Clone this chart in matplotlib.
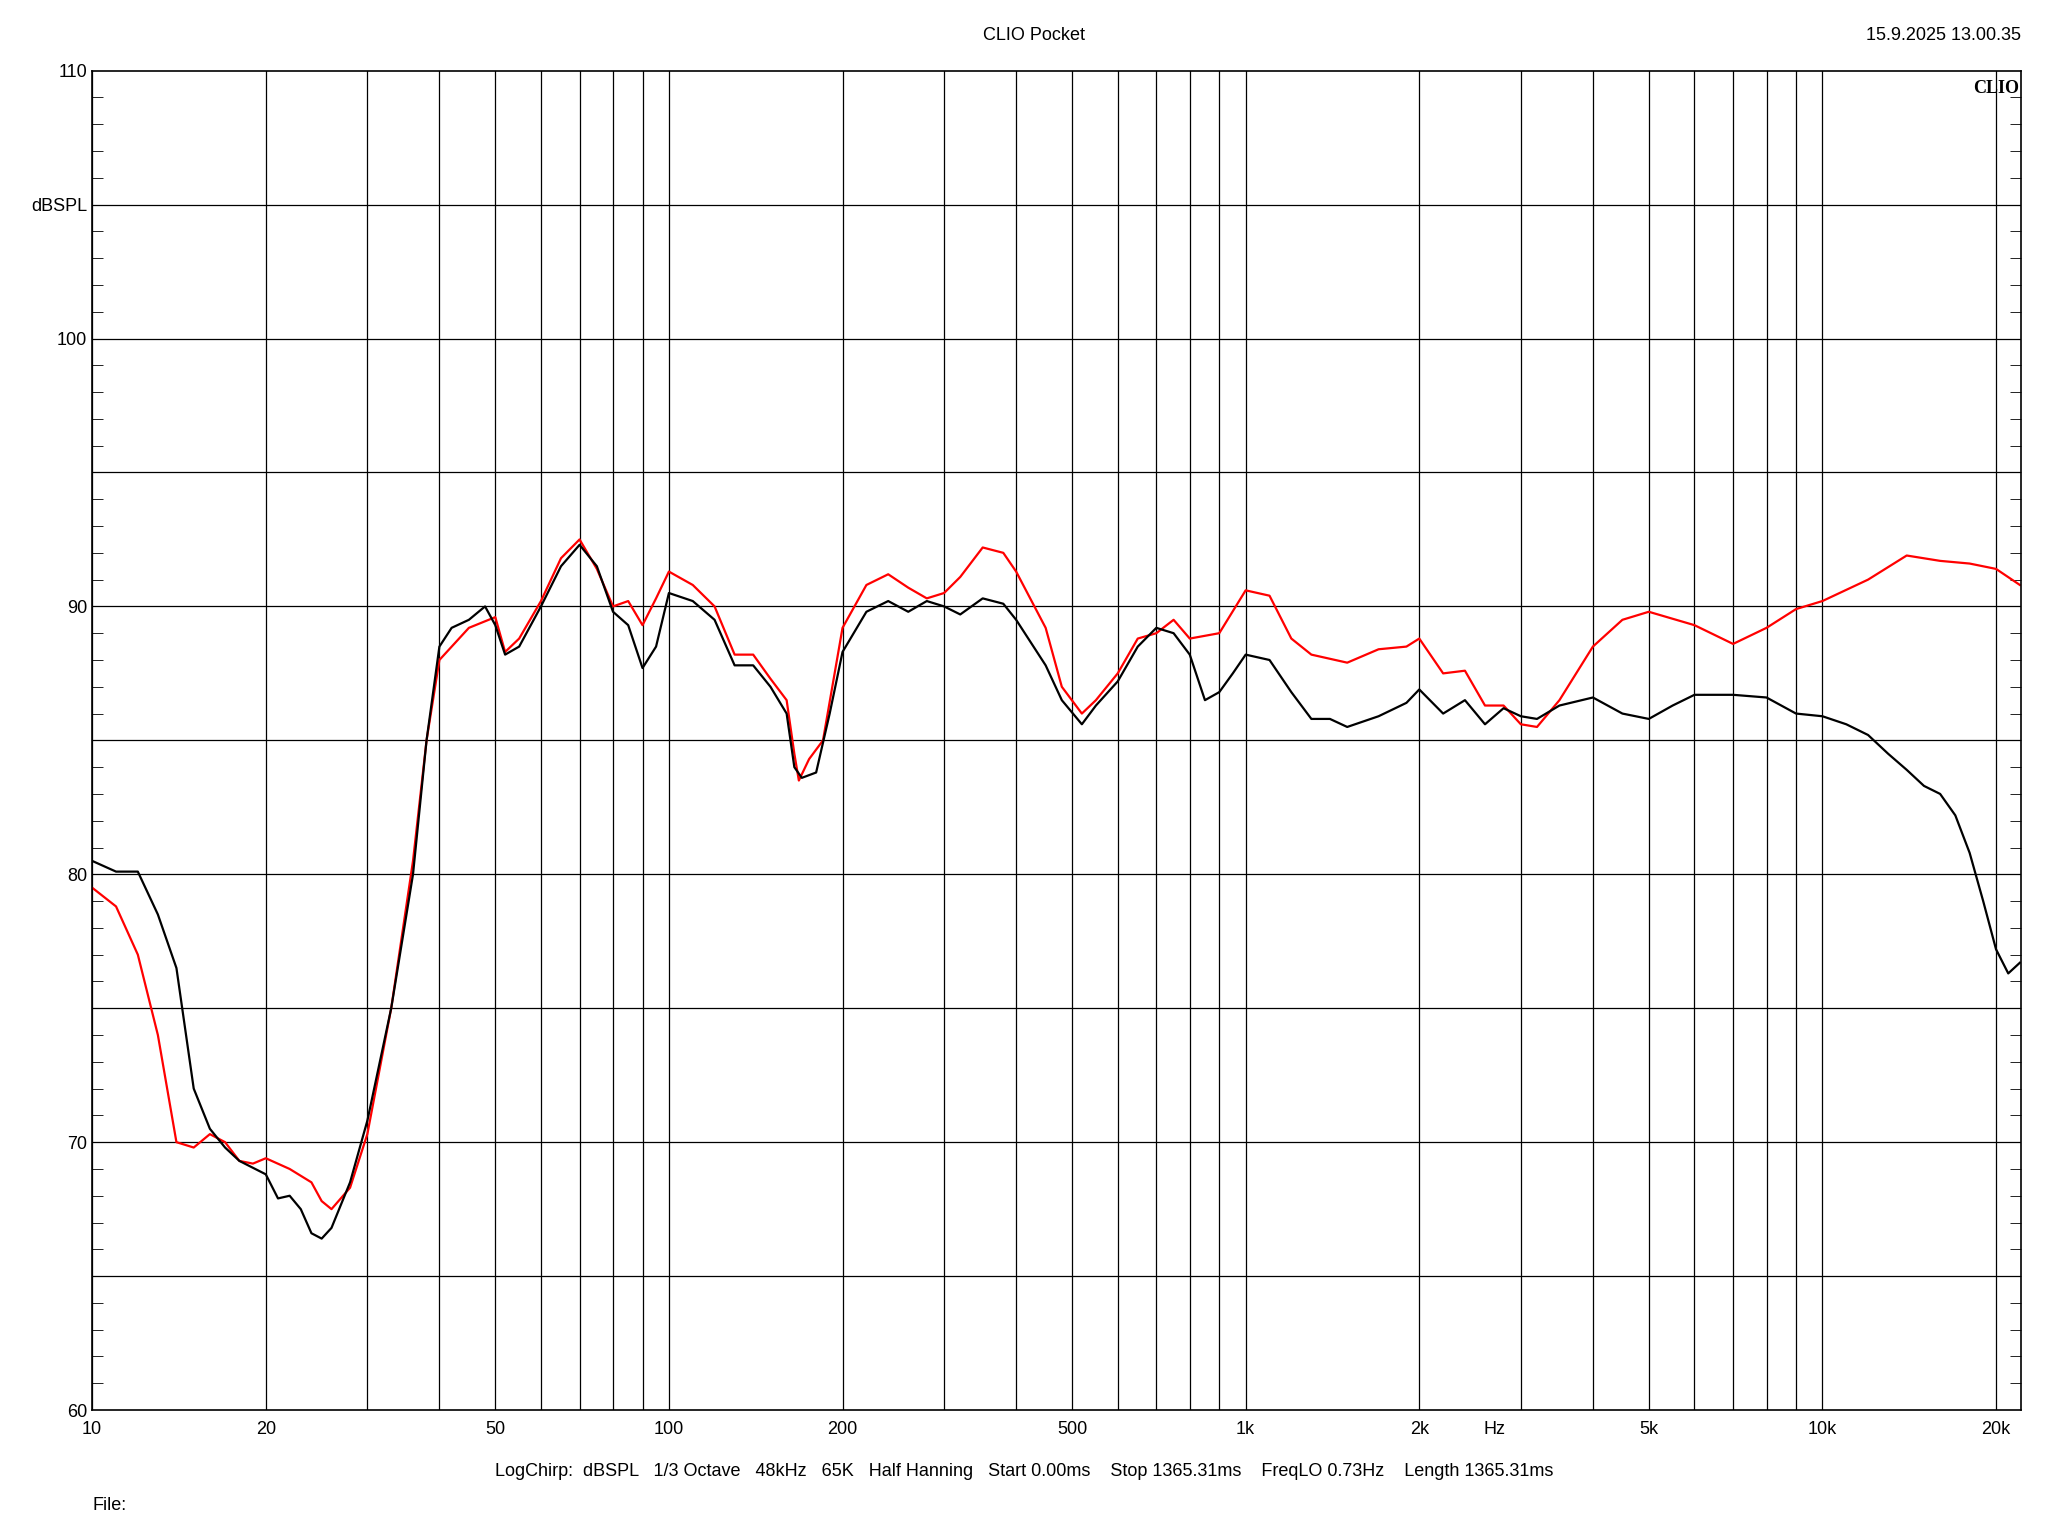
import matplotlib
matplotlib.use("Agg")
import matplotlib.pyplot as plt
import numpy as np

black_f = [10,11,12,13,14,15,16,17,18,20,21,22,23,24,25,26,28,30,33,36,38,40,42,45,48,50,52,55,60,65,70,75,80,85,90,95,100,110,120,130,140,150,160,165,170,180,190,200,220,240,260,280,300,320,350,380,400,450,480,520,550,600,650,700,750,800,850,900,950,1000,1100,1200,1300,1400,1500,1700,1900,2000,2200,2400,2600,2800,3000,3200,3500,4000,4500,5000,5500,6000,7000,8000,9000,10000,11000,12000,13000,14000,15000,16000,17000,18000,19000,20000,21000,22000]
black_db = [80.5,80.1,80.1,78.5,76.5,72,70.5,69.8,69.3,68.8,67.9,68,67.5,66.6,66.4,66.8,68.5,70.8,75,80,85,88.5,89.2,89.5,90,89.3,88.2,88.5,90,91.5,92.3,91.5,89.8,89.3,87.7,88.5,90.5,90.2,89.5,87.8,87.8,87,86,84,83.6,83.8,86,88.3,89.8,90.2,89.8,90.2,90,89.7,90.3,90.1,89.5,87.8,86.5,85.6,86.3,87.2,88.5,89.2,89,88.2,86.5,86.8,87.5,88.2,88,86.8,85.8,85.8,85.5,85.9,86.4,86.9,86,86.5,85.6,86.2,85.9,85.8,86.3,86.6,86,85.8,86.3,86.7,86.7,86.6,86.0,85.9,85.6,85.2,84.5,83.9,83.3,83,82.2,80.8,79,77.2,76.3,76.7]
red_f = [10,11,12,13,14,15,16,17,18,19,20,22,24,25,26,28,30,33,36,38,40,45,50,52,55,60,65,70,75,80,85,90,95,100,110,120,130,140,150,160,165,168,175,185,200,220,240,260,280,300,320,350,380,400,450,480,520,550,600,650,700,750,800,900,1000,1100,1200,1300,1500,1700,1900,2000,2200,2400,2600,2800,3000,3200,3500,4000,4500,5000,6000,7000,8000,9000,10000,12000,14000,16000,18000,20000,22000]
red_db = [79.5,78.8,77,74,70,69.8,70.3,70,69.3,69.2,69.4,69,68.5,67.8,67.5,68.3,70.3,75,80.5,85,88,89.2,89.6,88.3,88.8,90.2,91.8,92.5,91.4,90,90.2,89.3,90.3,91.3,90.8,90,88.2,88.2,87.3,86.5,84.5,83.5,84.3,85,89.2,90.8,91.2,90.7,90.3,90.5,91.1,92.2,92,91.3,89.2,87,86,86.5,87.5,88.8,89,89.5,88.8,89,90.6,90.4,88.8,88.2,87.9,88.4,88.5,88.8,87.5,87.6,86.3,86.3,85.6,85.5,86.5,88.5,89.5,89.8,89.3,88.6,89.2,89.9,90.2,91,91.9,91.7,91.6,91.4,90.8]
xtick_vals = [10,20,50,100,200,500,1000,2000,2700,5000,10000,20000]
xtick_labels = ["10","20","50","100","200","500","1k","2k","Hz","5k","10k","20k"]

plt.rcParams['font.family'] = ['Liberation Sans', 'DejaVu Sans']
fig = plt.figure(figsize=(20.48, 15.36), dpi=100)
ax = fig.add_axes([0.045, 0.082, 0.942, 0.872])
ax.set_xscale('log')
ax.set_xlim(10, 22130)
ax.set_ylim(60, 110)
grid = [m*10**e for e in range(1, 5) for m in range(1, 10) if m*10**e < 22130]
for g in grid:
    ax.axvline(g, color='black', lw=0.9)
for y in range(65, 110, 5):
    ax.axhline(y, color='black', lw=0.9)
ax.plot(red_f, red_db, color='#ff0000', lw=1.6)
ax.plot(black_f, black_db, color='black', lw=1.6)
ax.set_xticks(xtick_vals)
ax.set_xticklabels(xtick_labels, fontsize=13)
ax.xaxis.set_minor_locator(matplotlib.ticker.NullLocator())
ax.tick_params(axis='x', length=0, pad=8)
ax.set_yticks([60,70,80,90,100,105,110])
ax.set_yticklabels(["60","70","80","90","100","dBSPL","110"], fontsize=13)
ax.set_yticks(np.arange(60, 111, 1), minor=True)
ax.tick_params(axis='y', which='both', direction='in', right=True, length=8)
ax.tick_params(axis='y', which='major', length=0)
for s in ax.spines.values():
    s.set_linewidth(1.2)
fig.text(0.505, 0.977, "CLIO Pocket", ha='center', va='center', fontsize=13)
fig.text(0.987, 0.977, "15.9.2025 13.00.35", ha='right', va='center', fontsize=13)
ax.text(0.999, 0.993, "CLIO", transform=ax.transAxes, ha='right', va='top', fontsize=13, fontweight='bold', family='Liberation Serif')
fig.text(0.5, 0.042, "LogChirp:  dBSPL   1/3 Octave   48kHz   65K   Half Hanning   Start 0.00ms    Stop 1365.31ms    FreqLO 0.73Hz    Length 1365.31ms", ha='center', va='center', fontsize=13)
fig.text(0.045, 0.020, "File:", ha='left', va='center', fontsize=13)
fig.savefig("out.png", dpi=100, facecolor='white')
